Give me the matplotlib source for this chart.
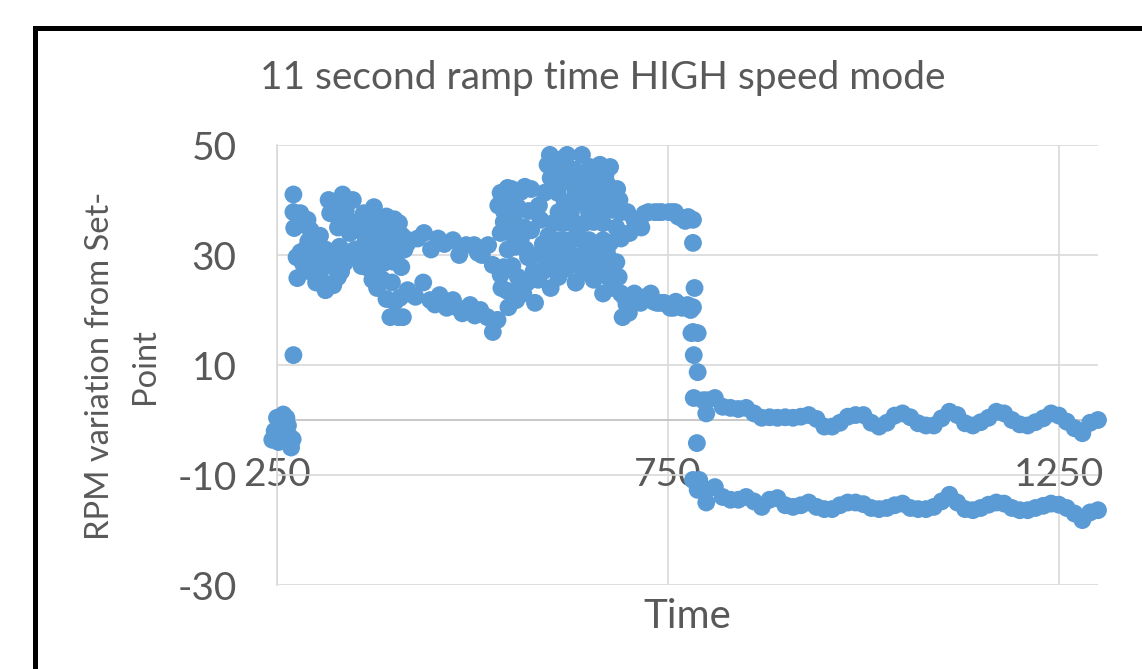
import matplotlib
matplotlib.use("Agg")
import matplotlib.pyplot as plt
from matplotlib.patches import Rectangle

plt.rcParams['font.family'] = ['Lato', 'DejaVu Sans']
plt.rcParams['axes.unicode_minus'] = False

# start-up, just before the ramp (close to the set-point)
start_x = [244, 247, 250, 252, 255, 258, 260, 262, 264, 266, 268, 270]
start_y = [-3.6, -2, 0.4, -4, -1, 1, -2, 0.4, -1, -3, -5, -3.5]

# ramp section, upper band
ramp_hi_x = [271, 271, 272, 280, 289, 293, 299, 316, 334, 347, 318, 334, 343, 361, 374,
             355, 369, 390, 387, 396, 406, 418, 325, 340, 352, 382, 400,
             285, 297, 305, 322, 328, 338, 346, 358, 366, 378, 384, 398, 410]
ramp_hi_y = [41, 37.8, 34.9, 37.6, 36.4, 34.5, 33, 40, 41, 40, 37.6, 36.4, 34, 37.6, 38.7,
             34.5, 32.7, 37, 34, 32.4, 35.8, 32.7, 39, 39.5, 36, 35, 36.5,
             35.5, 31.5, 33.5, 38.5, 35, 38, 35.5, 36, 35, 36.5, 33, 34, 33.5]

# ramp section, middle band
ramp_mid_x = [275, 280, 286, 295, 302, 305, 309, 320, 326, 336, 345, 355, 364, 372, 380,
              403, 409, 416, 290, 312, 330, 350, 362, 392,
              283, 292, 298, 315, 332, 340, 358, 368, 376, 386, 398, 413]
ramp_mid_y = [29.6, 30.5, 31, 29, 27.3, 26, 28.5, 28, 30, 28.5, 29.6, 29, 27.8, 29.5, 30.4,
              30, 27.8, 32, 32.5, 31, 31.5, 31, 32, 31,
              28.5, 27, 30, 29, 27, 30.5, 28, 30, 28, 28.5, 28.8, 31]

# ramp section, lower band
ramp_lo_x = [271, 276, 312, 322, 372, 385, 397, 407, 405, 418, 395,
             300, 318, 328, 378, 390, 401]
ramp_lo_y = [11.8, 25.8, 23.6, 24.5, 25.5, 25.5, 25, 22.2, 18.7, 23, 18.7,
             25, 24.5, 26, 24, 22, 21.5]

# plateau, upper band
plat_hi_x = [418, 438, 447, 456, 464, 475, 483, 492, 502, 507, 520, 526, 430, 512]
plat_hi_y = [32.4, 34, 31, 33, 32, 32.7, 30, 31.8, 31.8, 30.4, 31.8, 28.2, 33, 30]

# plateau, lower band
plat_lo_x = [411, 417, 427, 437, 446, 458, 467, 475, 487, 497, 510, 519, 526, 532, 537,
             546, 556, 452, 480, 503]
plat_lo_y = [18.7, 23.6, 22.4, 25, 21.8, 22.7, 20.4, 21.8, 19.4, 20.9, 20, 18.7, 16, 18.2, 24,
             20.5, 21.8, 21, 20.5, 19]

# overshoot region
over_x = [536, 533, 545, 540, 536, 549, 545, 540, 536, 555, 558, 567, 558, 571, 580, 584,
          575, 587, 592, 550, 562, 575, 585, 552, 566,
          540, 548, 553, 562, 568, 572, 578, 583, 590, 595, 560, 565, 570, 590, 597, 544, 551]
over_y = [41.3, 39, 42.2, 36, 34, 34, 31, 27.8, 26.4, 31.5, 38.7, 42.4, 26, 29.6, 21.3, 25.5,
          34.5, 36.4, 41.3, 42, 41.5, 42, 39, 37, 35,
          38, 40, 36.5, 33, 31, 38, 27, 30, 32, 29, 24, 23, 25, 27, 33.5, 23.5, 28]

# peak region, many levels
peak_x = [599, 621, 640, 596, 603, 663, 676, 605, 658,
          603, 610, 627, 644, 672, 609, 632, 649, 666, 679,
          610, 626, 649, 666, 680, 690, 603, 626, 643, 667, 684,
          610, 627, 649, 667, 676, 603, 621, 643, 661, 672, 684,
          596, 610, 632, 645, 662, 673, 684, 690, 632, 667, 615, 655,
          600, 607, 615, 630, 636, 650, 655, 670, 685, 688, 618, 635, 655, 675,
          615, 635, 655, 618, 638, 658, 612, 630, 650, 668, 600, 620, 640, 655, 678, 687]
peak_y = [48.2, 48.2, 48.2, 46.4, 47, 46.4, 46, 45, 45,
          43, 43, 43, 43, 43, 41.3, 41.3, 41.3, 41.3, 41.3,
          37.8, 37.8, 37.8, 37.8, 38.2, 37.8, 35.8, 35.8, 35.8, 35.8, 35,
          32.7, 32.7, 32.7, 32.7, 32.2, 30.4, 30.4, 30.4, 29.5, 30.4, 28.7,
          27.8, 26, 25, 26.9, 26.7, 26, 26, 23, 25, 23, 44.5, 44,
          44, 46.5, 47.5, 45.5, 44, 46, 41.3, 44.5, 42, 40, 39.5, 39.5, 39.5, 39.5,
          35.8, 35.5, 36, 32.7, 33, 31.5, 29, 29.8, 29, 28.7, 24, 27.5, 27.5, 25.5, 24, 26]

# hold before the drop
hold_x = [698, 707, 716, 725, 733, 742, 751, 759, 768, 776, 782, 782, 701,
          694, 692, 700, 707, 715, 720, 728, 736, 745, 753, 760, 768, 775, 782, 782, 784,
          720, 738, 755, 763, 772, 690, 697, 711, 724, 732, 740, 749, 757, 764, 779]
hold_y = [37.8, 36.4, 35, 37.8, 37.8, 37.8, 37.8, 37.8, 36.7, 36.9, 36.4, 32.2, 34,
          22.4, 18.7, 19.5, 23, 21.3, 22.3, 23, 21.3, 21.3, 20.4, 21.5, 20.4, 20.9, 20.5, 16, 24,
          37.5, 37.8, 37.8, 37, 36.2, 33, 21, 22, 22, 21.5, 21.3, 21, 20.4, 21, 20]

# drop to the new set-point
drop_x = [780, 788, 783, 788, 783, 795, 799, 787, 782, 788, 799]
drop_y = [15.8, 15.8, 11.8, 8.7, 4.0, 3.6, 1.2, -4.2, -10.9, -12.7, -15]

# settled, upper band
set_hi_x = [800, 810, 820, 830, 840, 850, 860, 870, 880, 890, 900, 910, 920, 930, 940, 950,
            960, 970, 980, 990, 1000, 1010, 1020, 1030, 1040, 1050, 1060, 1070, 1080, 1090,
            1100, 1110, 1120, 1130, 1140, 1150, 1160, 1170, 1180, 1190, 1200, 1210, 1220,
            1230, 1240, 1250, 1260, 1270, 1280, 1290, 1300]
set_hi_y = [3.6, 4, 2.4, 2.2, 2.0, 2.2, 1.2, 0.4, 0.5, 0.4, 0.5, 0.4, 0.6, 0.9, 0.2, -1.2,
            -1.2, -0.5, 0.6, 0.9, 0.9, -0.5, -1.2, -0.5, 0.8, 1.2, 0.5, -0.6, -1.0, -1.0,
            0.3, 1.5, 0.9, -0.6, -1.0, -0.4, 0.4, 1.5, 1.2, 0.0, -0.8, -1.0, -0.4,
            0.3, 1.2, 0.8, -0.3, -1.5, -2.4, -0.5, 0]

# settled, lower band
set_lo_x = [790, 800, 810, 820, 830, 840, 850, 860, 870, 880, 890, 900, 910, 920, 930, 940,
            950, 960, 970, 980, 990, 1000, 1010, 1020, 1030, 1040, 1050, 1060, 1070, 1080,
            1090, 1100, 1110, 1120, 1130, 1140, 1150, 1160, 1170, 1180, 1190, 1200, 1210,
            1220, 1230, 1240, 1250, 1260, 1270, 1280, 1290, 1300]
set_lo_y = [-10.9, -12.7, -12.2, -14, -14.5, -14.5, -14, -14.8, -15.8, -14.5, -14.2, -15.5,
            -15.8, -15.5, -15, -15.8, -16.2, -16.2, -15.5, -15, -15, -15.3, -16, -16.2, -16,
            -15.5, -15.2, -16, -16.2, -16.2, -15.8, -14.8, -13.6, -15, -16.2, -16.4, -16,
            -15.4, -15.0, -15.2, -16, -16.4, -16.4, -16, -15.6, -15.2, -15.4, -16, -17,
            -18.2, -16.8, -16.4]

xs = (start_x + ramp_hi_x + ramp_mid_x + ramp_lo_x + plat_hi_x + plat_lo_x + over_x
      + peak_x + hold_x + drop_x + set_hi_x + set_lo_x)
ys = (start_y + ramp_hi_y + ramp_mid_y + ramp_lo_y + plat_hi_y + plat_lo_y + over_y
      + peak_y + hold_y + drop_y + set_hi_y + set_lo_y)

x_ticks = [250, 750, 1250]
y_ticks = [-30, -10, 10, 30, 50]

text_col = '#595959'
grid_col = '#d9d9d9'

fig = plt.figure(figsize=(11.42, 6.69), dpi=100)
ax = fig.add_axes([277 / 1142, 1 - 585 / 669, (1098 - 277) / 1142, 440 / 669])

ax.scatter(xs, ys, s=165, color='#5b9bd5', edgecolors='none', zorder=3, clip_on=False)

ax.set_xlim(250, 1300)
ax.set_ylim(-30, 50)
ax.set_xticks(x_ticks)
ax.set_yticks(y_ticks)
ax.grid(True, color=grid_col, lw=1.2, zorder=0)

for side in ['top', 'right']:
    ax.spines[side].set_visible(False)
ax.spines['left'].set_color(grid_col)
ax.spines['left'].set_linewidth(1.2)
ax.spines['bottom'].set_position(('data', 0))
ax.spines['bottom'].set_color('#bfbfbf')
ax.spines['bottom'].set_linewidth(1.2)
ax.tick_params(axis='both', length=0, labelsize=28, labelcolor=text_col)
ax.tick_params(axis='y', pad=29)
ax.tick_params(axis='x', pad=27)

fig.text(603 / 1142, 1 - 78 / 669, '11 second ramp time HIGH speed mode',
         ha='center', va='center', fontsize=28, color=text_col)
fig.text(122.5 / 1142, 1 - 366 / 669, 'RPM variation from Set-\nPoint', rotation=90,
         ha='center', va='center', multialignment='center', fontsize=23.5, color=text_col,
         linespacing=1.6)
fig.text(687 / 1142, 1 - 617 / 669, 'Time', ha='center', va='center', fontsize=29,
         color=text_col)

# black frame around the chart, cut off at the right and bottom
fig.add_artist(Rectangle((35 / 1142, -0.1), 1.2, 1 - 28.5 / 669 + 0.1, fill=False,
                         lw=3.6, ec='black', transform=fig.transFigure))

fig.savefig('out.png', dpi=100)
